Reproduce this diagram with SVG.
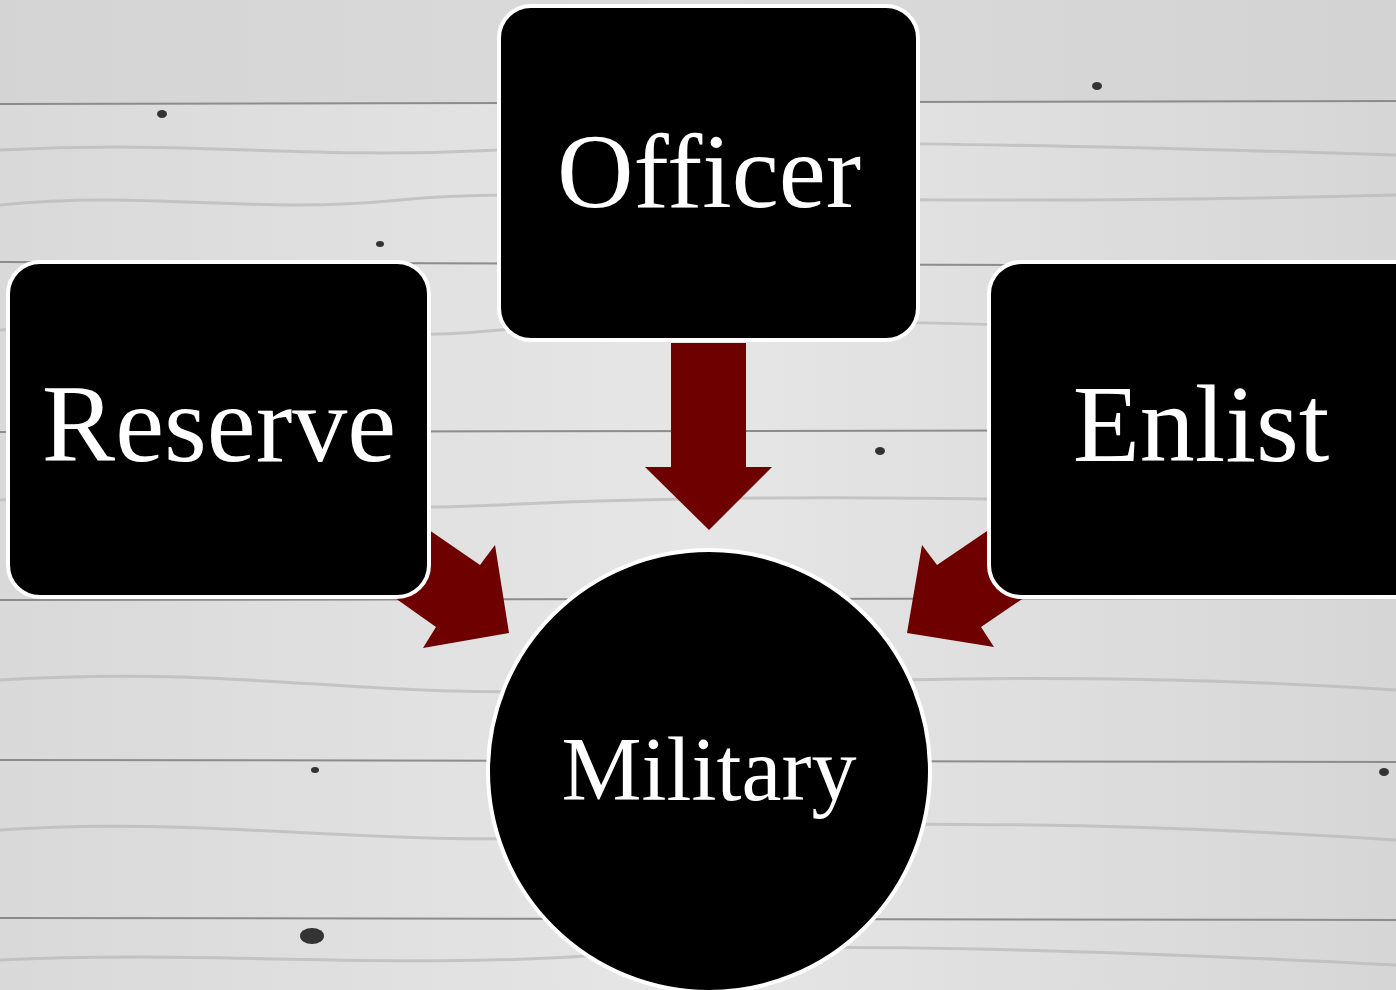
<svg xmlns="http://www.w3.org/2000/svg" width="1396" height="990" viewBox="0 0 1396 990">
<defs>
<linearGradient id="wood" x1="0" y1="0" x2="1" y2="0">
<stop offset="0" stop-color="#d9d9d9"/>
<stop offset="0.5" stop-color="#e6e6e6"/>
<stop offset="1" stop-color="#d6d6d6"/>
</linearGradient>
<style>
.seam{stroke:#8c8c8c;stroke-width:2;fill:none}
.grain{stroke:#b8b8b8;stroke-width:3;fill:none;opacity:0.7}
.knot{fill:#333}
.box{fill:#000;stroke:#fff;stroke-width:4}
.arrow{fill:#6e0000}
.lbl{font-family:"Liberation Serif","Times New Roman",serif;fill:#fff;text-anchor:middle}
</style>
</defs>
<g id="background">
<rect width="1396" height="990" fill="url(#wood)"/>
<rect x="0" y="0" width="1396" height="103" fill="#cfcfcf" opacity="0.5"/>
<path class="grain" d="M0 150 C200 140 300 160 500 150 S900 140 1396 155"/>
<path class="grain" d="M0 205 C150 190 250 215 400 200 S800 210 1396 195"/>
<path class="grain" d="M0 330 C200 320 350 345 500 330 S1000 320 1396 340"/>
<path class="grain" d="M0 500 C200 490 300 515 500 505 S1000 495 1396 510"/>
<path class="grain" d="M0 680 C250 665 350 700 600 690 S1100 670 1396 690"/>
<path class="grain" d="M0 830 C200 815 400 850 600 835 S1100 820 1396 840"/>
<path class="grain" d="M0 960 C200 950 400 970 600 955 S1100 950 1396 965"/>
<line class="seam" x1="0" y1="104" x2="1396" y2="101"/>
<line class="seam" x1="0" y1="262" x2="1396" y2="266"/>
<line class="seam" x1="0" y1="432" x2="1396" y2="430"/>
<line class="seam" x1="0" y1="600" x2="1396" y2="598"/>
<line class="seam" x1="0" y1="760" x2="1396" y2="762"/>
<line class="seam" x1="0" y1="918" x2="1396" y2="920"/>
<ellipse class="knot" cx="162" cy="114" rx="5" ry="4"/>
<ellipse class="knot" cx="380" cy="244" rx="4" ry="3"/>
<ellipse class="knot" cx="1097" cy="86" rx="5" ry="4"/>
<ellipse class="knot" cx="880" cy="451" rx="5" ry="4"/>
<ellipse class="knot" cx="315" cy="770" rx="4" ry="3"/>
<ellipse class="knot" cx="1384" cy="772" rx="5" ry="4"/>
<ellipse class="knot" cx="312" cy="936" rx="12" ry="8" fill="#555"/>
</g>
<g id="connectors">
<polygon class="arrow" points="671,343 746,343 746,467 772,467 709,530 645,467 671,467"/>
<polygon class="arrow" points="384,499 480,565 495,545 509,633 423,648 436,627 340,559"/>
<polygon class="arrow" points="1037,497 937,565 922,545 907,633 994,647 981,627 1081,559"/>
</g>
<g id="officer">
<rect class="box" x="499" y="6" width="419" height="334" rx="32"/>
<text class="lbl" x="709" y="207" font-size="106">Officer</text>
</g>
<g id="reserve">
<rect class="box" x="8" y="262" width="421" height="335" rx="32"/>
<text class="lbl" x="219" y="461" font-size="110">Reserve</text>
</g>
<g id="enlist">
<rect class="box" x="989" y="262" width="440" height="335" rx="32"/>
<text class="lbl" x="1201" y="461" font-size="110">Enlist</text>
</g>
<g id="military">
<circle class="box" cx="709" cy="771" r="221"/>
<text class="lbl" x="709" y="800" font-size="90">Military</text>
</g>
</svg>
